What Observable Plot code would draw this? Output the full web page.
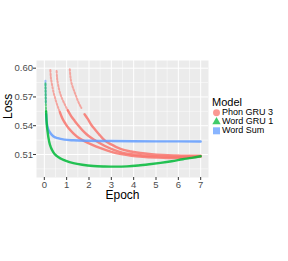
<!DOCTYPE html>
<html><head><meta charset="utf-8">
<script src="https://cdn.jsdelivr.net/npm/d3@7"></script>
<script src="https://cdn.jsdelivr.net/npm/@observablehq/plot@0.6"></script>
<style>
body{margin:0;background:#fff;}
#wrap{position:relative;width:288px;height:261px;font-family:"Liberation Sans",Arial,sans-serif;}
#legend{position:absolute;left:212px;top:96px;color:#000;}
#legend .t{font-size:11px;line-height:12px;margin-bottom:0px;}
#legend .r{display:flex;align-items:center;height:9px;font-size:9px;line-height:9px;}
#legend svg{margin-right:1px;}
</style></head><body>
<div id="wrap"><div id="chart"></div><div id="legend"></div></div>
<script>
const models = ["Phon GRU 3", "Word GRU 1", "Word Sum"];
const colors = ["#F8766D", "#00BA38", "#619CFF"];
const xTicks = [0, 1, 2, 3, 4, 5, 6, 7];
const xMinor = [0.5, 1.5, 2.5, 3.5, 4.5, 5.5, 6.5];
const yTicks = [0.51, 0.54, 0.57, 0.60];
const yMinor = [0.495, 0.525, 0.555, 0.585];

// [epoch, loss]
const wordSum = [[0.05,0.587],[0.06,0.575],[0.07,0.563],[0.08,0.552],[0.1,0.545],[0.15,0.538],[0.25,0.533],[0.4,0.529],[0.6,0.527],[0.9,0.5255],[1.3,0.5248],[2,0.5243],[3,0.524],[4,0.5238],[5,0.5237],[6,0.5237],[7,0.5236]];
const wordGru1 = [[0.05,0.584],[0.06,0.57],[0.08,0.555],[0.1,0.545],[0.15,0.533],[0.22,0.523],[0.3,0.517],[0.4,0.5125],[0.55,0.5085],[0.75,0.5055],[1,0.503],[1.3,0.501],[1.7,0.4993],[2.2,0.498],[2.7,0.4975],[3.2,0.4973],[3.7,0.4976],[4.2,0.4985],[4.7,0.4998],[5.2,0.5013],[5.7,0.503],[6.2,0.505],[6.6,0.5065],[7,0.5082]];
const phonRunA = [[0.27,0.598],[0.29,0.591],[0.32,0.586],[0.36,0.581],[0.41,0.575],[0.47,0.57],[0.53,0.565],[0.6,0.56],[0.7,0.554],[0.8,0.548],[0.95,0.542],[1.1,0.537],[1.3,0.532],[1.5,0.528],[1.75,0.5245],[2.1,0.5205],[2.55,0.5163],[3,0.5128],[3.44,0.5104],[3.9,0.5087],[4.4,0.5076],[5,0.5068],[5.5,0.5064],[6,0.5064],[6.5,0.5068],[7,0.5078]];
const phonRunB = [[0.55,0.597],[0.57,0.59],[0.6,0.585],[0.65,0.579],[0.72,0.573],[0.8,0.568],[0.9,0.563],[1.05,0.556],[1.2,0.55],[1.36,0.545],[1.55,0.5395],[1.8,0.533],[2,0.529],[2.25,0.525],[2.69,0.5191],[3.14,0.5146],[3.58,0.5115],[3.9,0.5102],[4.4,0.509],[5,0.508],[5.5,0.5076],[6,0.5074],[6.5,0.5076],[7,0.5082]];
const phonRunC = [[1.14,0.599],[1.16,0.593],[1.18,0.589],[1.25,0.582],[1.33,0.5766],[1.42,0.571],[1.5,0.566],[1.66,0.5585],[1.8,0.552],[1.96,0.5465],[2.1,0.541],[2.25,0.5365],[2.45,0.531],[2.62,0.5265],[2.8,0.523],[2.99,0.5205],[3.2,0.518],[3.44,0.5156],[3.88,0.5131],[4.3,0.5115],[4.8,0.5103],[5.3,0.5095],[5.8,0.509],[6.3,0.5087],[7,0.5088]];

const series = [
  {model: models[0], run: "A", pts: phonRunA},
  {model: models[0], run: "B", pts: phonRunB},
  {model: models[0], run: "C", pts: phonRunC},
  {model: models[2], run: "S", pts: wordSum},
  {model: models[1], run: "G", pts: wordGru1}
];
const rows = series.flatMap(s => s.pts.map(([epoch, loss]) => ({model: s.model, run: s.run, epoch, loss})));
const sparseCut = 0.553;

const chart = Plot.plot({
  width: 288, height: 261,
  marginLeft: 36, marginRight: 80, marginTop: 60, marginBottom: 84,
  style: {fontFamily: '"Liberation Sans", Arial, sans-serif', fontSize: "9.5px", background: "transparent", color: "#4D4D4D"},
  x: {domain: [-0.35, 7.35]},
  y: {domain: [0.486, 0.608]},
  color: {domain: models, range: colors},
  marks: [
    Plot.frame({fill: "#EBEBEB", stroke: null}),
    Plot.gridX(xMinor, {stroke: "white", strokeOpacity: 1, strokeWidth: 0.5}),
    Plot.gridY(yMinor, {stroke: "white", strokeOpacity: 1, strokeWidth: 0.5}),
    Plot.gridX(xTicks, {stroke: "white", strokeOpacity: 1, strokeWidth: 1}),
    Plot.gridY(yTicks, {stroke: "white", strokeOpacity: 1, strokeWidth: 1}),
    // sparse (fast-falling) early parts: dotted look
    Plot.line(rows, {filter: d => d.loss >= sparseCut, x: "epoch", y: "loss", z: "run", stroke: "model", strokeWidth: 2, strokeOpacity: 0.6, strokeDasharray: "1.6,1.8", curve: "monotone-x"}),
    // dense later parts
    Plot.line(rows, {filter: d => d.loss <= sparseCut + 0.004, x: "epoch", y: "loss", z: "run", stroke: "model", strokeWidth: 2.4, strokeOpacity: 0.85, curve: "monotone-x"}),
    Plot.axisX(xTicks, {tickSize: 3, tickPadding: 0.5, stroke: "#333", fill: "#4D4D4D", label: null}),
    Plot.axisY(yTicks, {tickSize: 3, tickPadding: 0.5, stroke: "#333", fill: "#4D4D4D", tickFormat: d3.format(".2f"), label: null}),
    Plot.text(["Epoch"], {frameAnchor: "bottom", dy: 18, fontSize: 12, fill: "#000", lineAnchor: "middle"}),
    Plot.text(["Loss"], {frameAnchor: "left", dx: -28, rotate: -90, fontSize: 12, fill: "#000"})
  ]
});
document.getElementById("chart").appendChild(chart);

// legend
const lg = d3.select("#legend");
lg.append("div").attr("class", "t").text("Model");
const shapes = ["circle", "triangle", "square"];
models.forEach((m, i) => {
  const r = lg.append("div").attr("class", "r");
  const s = r.append("svg").attr("width", 9).attr("height", 9);
  const sym = {circle: d3.symbolCircle, triangle: d3.symbolTriangle, square: d3.symbolSquare}[shapes[i]];
  const size = {circle: 38, triangle: 30, square: 49}[shapes[i]];
  s.append("path").attr("transform", "translate(4.5,4.8)").attr("d", d3.symbol(sym, size)()).attr("fill", colors[i]).attr("fill-opacity", 0.75);
  r.append("span").text(m);
});
</script>
</body></html>
